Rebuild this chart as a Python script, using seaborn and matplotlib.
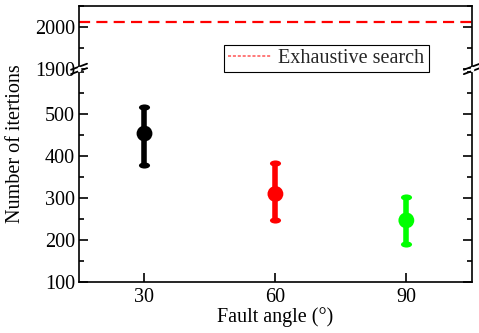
import matplotlib
matplotlib.use("Agg")
import matplotlib.pyplot as plt
from matplotlib.lines import Line2D
from matplotlib.path import Path
from matplotlib.transforms import Affine2D
from matplotlib.ticker import MultipleLocator, FixedLocator
import seaborn as sns
import pandas as pd

# ---- data ----
fault_angles = [30, 60, 90]
mean_iters = [454, 310, 247]
err_low = [380, 247, 190]
err_high = [517, 383, 302]
point_colors = ["#000000", "#ff0000", "#00ff00"]
exhaustive_value = 2012
x_ticks = [30, 60, 90]
y_ticks_low = [100, 200, 300, 400, 500]
y_ticks_high = [1900, 2000]

sns.set_theme(style="ticks")
plt.rcParams["font.family"] = ["Liberation Serif", "DejaVu Serif"]
plt.rcParams["mathtext.fontset"] = "stix"

FS = 14.5
fig = plt.figure(figsize=(4.79, 3.33), dpi=100)
L, R = 0.165, 0.985
B, T = 0.153, 0.982
BRK = 0.793
ax_top = fig.add_axes([L, BRK, R - L, T - BRK])
ax_bot = fig.add_axes([L, B, R - L, BRK - B])

df = pd.DataFrame({"angle": fault_angles, "mean": mean_iters,
                   "grp": [str(a) for a in fault_angles]})

cap_marker = Path.unit_circle().transformed(Affine2D().scale(1, 0.55))

# error bars
for x, m, lo, hi, c in zip(fault_angles, mean_iters, err_low, err_high, point_colors):
    eb = ax_bot.errorbar(x, m, yerr=[[m - lo], [hi - m]], fmt="none", ecolor=c,
                         elinewidth=4, capsize=4, capthick=4, zorder=2)
    for ln in eb.lines[1]:
        ln.set_marker(cap_marker)
        ln.set_markersize(8)
        ln.set_markerfacecolor(c)
        ln.set_markeredgewidth(0)
sns.scatterplot(data=df, x="angle", y="mean", hue="grp", palette=point_colors,
                s=130, edgecolor="none", legend=False, ax=ax_bot, zorder=3)

# exhaustive search line
ax_top.axhline(exhaustive_value, color="#ff0000", lw=1.6, ls=(0, (5, 2.8)))

for ax in (ax_top, ax_bot):
    ax.set_xlim(15, 105)
    for s in ax.spines.values():
        s.set_linewidth(1.2)
        s.set_color("black")
    ax.tick_params(axis="y", which="both", direction="in", left=True, right=True,
                   labelsize=FS, width=1.2, colors="black", pad=3)
    ax.tick_params(axis="y", which="major", length=6.5)
    ax.tick_params(axis="y", which="minor", length=3.5)
    ax.set_ylabel("")

ax_bot.set_ylim(100, 608)
ax_bot.yaxis.set_major_locator(FixedLocator(y_ticks_low))
ax_bot.yaxis.set_minor_locator(MultipleLocator(50))
ax_bot.set_xticks(x_ticks)
ax_bot.set_xticklabels([str(v) for v in x_ticks])
ax_bot.tick_params(axis="x", which="both", direction="in", bottom=True, top=False,
                   length=6.5, width=1.2, labelsize=FS, colors="black", pad=4)
ax_bot.spines["top"].set_visible(False)
ax_bot.set_xlabel("Fault angle (°)", fontsize=FS, labelpad=0, color="black")

ax_top.set_ylim(1900, 2050)
ax_top.yaxis.set_major_locator(FixedLocator(y_ticks_high))
ax_top.yaxis.set_minor_locator(MultipleLocator(50))
ax_top.set_xticks([])
ax_top.spines["bottom"].set_visible(False)
ax_top.set_xlabel("")

fig.text(0.032, (B + T) / 2, "Number of itertions", rotation=90, ha="center",
         va="center", fontsize=FS, color="black")

# legend (figure-level so it sits above both axes)
handle = Line2D([], [], color="#ff5555", lw=1.1, ls=(0, (2, 1.2)))
leg = fig.legend([handle], ["Exhaustive search"], loc="upper left",
                 bbox_to_anchor=(224 / 479, 1 - 45 / 333), bbox_transform=fig.transFigure,
                 fontsize=FS, frameon=True, fancybox=False, borderaxespad=0,
                 borderpad=0.2, handlelength=2.2, handletextpad=0.3)
leg.get_frame().set_edgecolor("black")
leg.get_frame().set_linewidth(0.8)
leg.get_frame().set_facecolor("white")
leg.get_frame().set_alpha(1)
leg.set_zorder(10)

# break marks
W, H = fig.get_size_inches() * fig.dpi
dx, dy, gap = 8 / W, 3 / H, 2.2 / H
for xc in (L, R):
    for off in (-gap, gap):
        fig.add_artist(Line2D([xc - dx, xc + dx], [BRK + off - dy, BRK + off + dy],
                              transform=fig.transFigure, color="black", lw=1.3,
                              clip_on=False))
    fig.add_artist(Line2D([xc, xc], [BRK - gap * 0.6, BRK + gap * 0.6],
                          transform=fig.transFigure, color="white", lw=2.5))

fig.savefig("out.png", dpi=100)
